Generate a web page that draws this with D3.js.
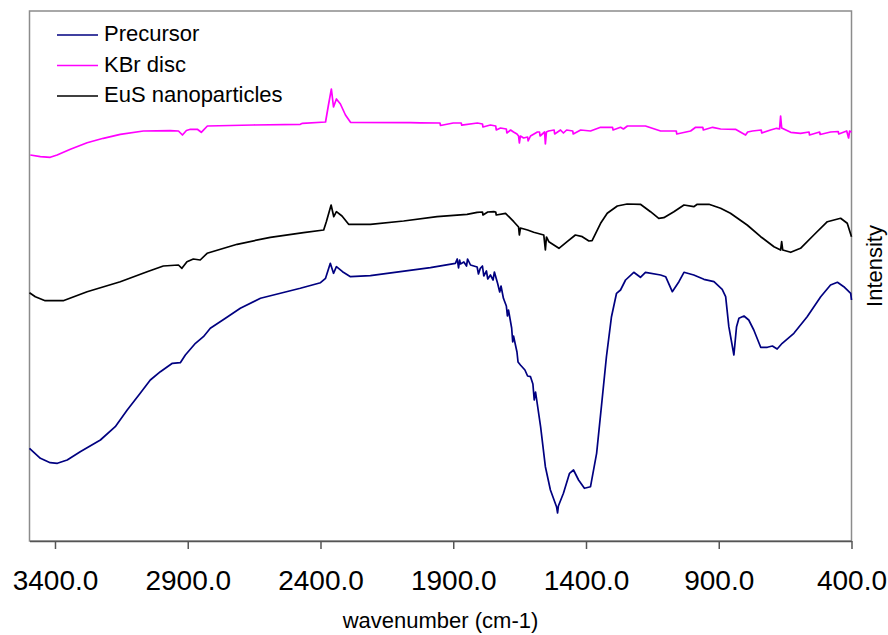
<!DOCTYPE html>
<html>
<head>
<meta charset="utf-8">
<script src="https://cdn.jsdelivr.net/npm/d3@7"></script>
<style>
  body { margin: 0; background: #fff; }
  svg { font-family: "Liberation Sans", Arial, sans-serif; }
</style>
</head>
<body>
<svg id="chart" width="888" height="635"></svg>
<script>
// IR spectra, intensity in arbitrary units
const seriesNames = ["Precursor", "KBr disc", "EuS nanoparticles"];
const seriesColors = ["#000080", "#ff00ff", "#000000"];

const precursorWn = [3496, 3455, 3418, 3391, 3354, 3305, 3229, 3173, 3128, 3079, 3041, 3003, 2958, 2928, 2909, 2871, 2841, 2815, 2758, 2702, 2626, 2551, 2476, 2400, 2381, 2363, 2351, 2340, 2317, 2287, 2212, 2099, 1986, 1892, 1885, 1880, 1876, 1873, 1860, 1850, 1846, 1835, 1810, 1805, 1798, 1790, 1785, 1775, 1770, 1760, 1750, 1745, 1733, 1725, 1720, 1711, 1700, 1696, 1692, 1680, 1676, 1673, 1660, 1656, 1647, 1630, 1620, 1609, 1600, 1595, 1590, 1571, 1553, 1534, 1511, 1507, 1504, 1485, 1462, 1447, 1428, 1406, 1383, 1360, 1342, 1323, 1304, 1285, 1270, 1251, 1220, 1195, 1176, 1119, 1100, 1075, 1050, 1031, 994, 956, 918, 887, 874, 862, 853, 843, 833, 824, 805, 787, 768, 742, 717, 698, 680, 661, 617, 567, 516, 479, 453, 429, 403, 400];
const precursorVal = [93.7, 83.7, 79.3, 78.7, 82, 90.3, 102, 115.3, 132, 148.7, 162, 170.3, 178.7, 179.3, 187, 198.7, 205.3, 213.7, 223.7, 233.7, 243.7, 248.7, 253.7, 259.3, 263.7, 278.7, 268.7, 275.3, 270.3, 265.3, 266.3, 270.3, 274.3, 278.7, 283, 274, 282, 278, 280, 276, 283, 277, 275, 268, 273.7, 276, 266, 271, 263, 267, 262, 270, 258.7, 250, 256, 243.7, 236, 226, 232, 214, 200, 206, 190, 180, 177, 172, 166, 165.3, 158, 142, 150, 115.3, 75.3, 52, 35.3, 29, 36, 48.7, 68.7, 72, 62, 53.7, 55.3, 88.7, 135.3, 185.3, 225.3, 248.7, 252, 262, 269.7, 264.7, 269.7, 267, 265.3, 250.3, 260.3, 269.7, 267, 262.7, 260.3, 252.7, 245.3, 215.3, 202, 187, 215.3, 223.7, 226, 222, 212, 194.7, 194.7, 196, 193, 198.7, 208.7, 225.3, 245.3, 257, 259.7, 255.3, 248.7, 242];

const kbrWn = [3493, 3455, 3418, 3392, 3342, 3279, 3218, 3154, 3067, 2966, 2935, 2920, 2905, 2890, 2864, 2849, 2826, 2653, 2476, 2468, 2381, 2370, 2359, 2351, 2340, 2325, 2306, 2287, 2061, 2024, 1950, 1948, 1900, 1870, 1868, 1809, 1790, 1788, 1760, 1740, 1738, 1722, 1700, 1698, 1684, 1673, 1660, 1654, 1651, 1647, 1635, 1620, 1618, 1609, 1583, 1575, 1573, 1556, 1553, 1549, 1541, 1520, 1518, 1496, 1485, 1473, 1450, 1448, 1420, 1383, 1345, 1300, 1298, 1270, 1259, 1244, 1176, 1119, 1060, 1058, 1006, 987, 960, 958, 923, 893, 837, 799, 791, 773, 740, 738, 705, 682, 671, 667, 663, 629, 592, 560, 558, 520, 518, 479, 450, 448, 418, 411, 407, 400];
const kbrVal = [387, 385.3, 384.7, 387, 392.7, 399.3, 403.7, 407.7, 411, 411.3, 411, 407, 411.5, 412.7, 412.7, 409.7, 416, 417, 417.7, 418.7, 420, 437, 453, 435, 443, 438, 427, 419.7, 419.3, 419.2, 419, 416.5, 419, 419, 416.8, 419, 418, 415, 417, 416, 412, 414, 413, 409, 412, 410, 408, 406, 399, 406, 404, 405, 401, 406, 410, 410, 406, 410, 398, 410, 411, 412, 408, 412, 409, 412, 411, 408, 412, 411, 414.7, 414.7, 412, 414.7, 413, 416, 416, 411, 411, 408, 411, 414.7, 414.7, 412, 414.7, 413, 412.7, 407, 410, 411, 412, 409, 412, 413.7, 413, 426, 414, 409.7, 408.7, 410, 407, 410, 407.5, 410, 410.5, 408, 411, 404, 411, 410];

const eusWn = [3496, 3474, 3437, 3369, 3279, 3154, 3053, 2992, 2935, 2922, 2903, 2879, 2853, 2827, 2714, 2589, 2464, 2388, 2378, 2360, 2350, 2340, 2319, 2294, 2212, 2087, 1961, 1848, 1810, 1790, 1788, 1770, 1747, 1740, 1738, 1703, 1672, 1654, 1651, 1647, 1620, 1597, 1559, 1553, 1549, 1540, 1502, 1471, 1440, 1414, 1389, 1377, 1345, 1320, 1282, 1245, 1195, 1157, 1126, 1107, 1069, 1031, 994, 981, 937, 893, 856, 793, 742, 692, 667, 663, 659, 629, 592, 542, 491, 441, 416, 400];
const eusVal = [249.3, 245.3, 241.3, 241.3, 250.3, 260.3, 270.3, 276, 277, 273.7, 280.3, 283, 282, 288.7, 297.7, 304.7, 309.3, 312, 320.3, 337, 325.3, 330.3, 326, 317.7, 317.7, 321, 325.3, 327.7, 329.7, 330, 327, 330, 330.3, 330, 327, 328.7, 320.3, 315, 307, 314, 312, 309.7, 307, 292, 305, 300.3, 293.7, 300.3, 307, 305.3, 301, 301.3, 318.7, 328.7, 336, 338, 337.7, 330.3, 323.7, 324.3, 330.3, 337, 335.3, 337.7, 337.7, 333.7, 328.7, 317, 305.3, 295.3, 292, 300.3, 292, 289.7, 293.7, 307, 320.3, 323.7, 318.7, 305.3];

const xTicks = [3400, 2900, 2400, 1900, 1400, 900, 400];

const svg = d3.select("#chart");
const plotLeft = 29.5, plotRight = 851.5, plotTop = 11, plotBottom = 541;

const x = d3.scaleLinear().domain([3496, 400]).range([plotLeft, plotRight]);
const y = d3.scaleLinear().domain([1, 531]).range([plotBottom, plotTop]);

// frame
svg.append("rect")
  .attr("x", plotLeft).attr("y", plotTop)
  .attr("width", plotRight - plotLeft).attr("height", plotBottom - plotTop)
  .attr("fill", "none").attr("stroke", "#8c8c8c").attr("stroke-width", 1.5);

// x axis
const xAxis = svg.append("g")
  .attr("transform", `translate(0,${plotBottom})`)
  .call(d3.axisBottom(x).tickValues(xTicks).tickFormat(d3.format(".1f")).tickSize(8).tickSizeOuter(0));
xAxis.select(".domain").attr("stroke", "#555").attr("stroke-width", 1.5);
xAxis.selectAll(".tick line").attr("stroke", "#555").attr("stroke-width", 1.5);
xAxis.selectAll(".tick text")
  .attr("font-size", 28).attr("font-family", "Liberation Sans, Arial, sans-serif")
  .attr("fill", "#000").attr("dy", 0).attr("y", 49);

svg.append("text")
  .attr("x", (plotLeft + plotRight) / 2).attr("y", 628)
  .attr("text-anchor", "middle").attr("font-size", 22)
  .text("wavenumber (cm-1)");

svg.append("text")
  .attr("transform", "translate(882,266) rotate(-90)")
  .attr("text-anchor", "middle").attr("font-size", 22)
  .text("Intensity");

// spectra
const line = d3.line().x(d => x(d[0])).y(d => y(d[1]));
const series = [
  d3.zip(kbrWn, kbrVal),
  d3.zip(eusWn, eusVal),
  d3.zip(precursorWn, precursorVal)
];
const seriesIdx = [1, 2, 0];
const plot = svg.append("g");
series.forEach((pts, i) => {
  plot.append("path")
    .attr("d", line(pts))
    .attr("fill", "none")
    .attr("stroke", seriesColors[seriesIdx[i]])
    .attr("stroke-width", 1.7)
    .attr("stroke-linejoin", "round");
});

// legend
const legend = svg.append("g");
seriesNames.forEach((name, i) => {
  const ly = 35 + i * 30.5;
  legend.append("line")
    .attr("x1", 57).attr("x2", 98).attr("y1", ly).attr("y2", ly)
    .attr("stroke", seriesColors[i]).attr("stroke-width", 1.6);
  legend.append("text")
    .attr("x", 104).attr("y", ly + 6).attr("font-size", 22)
    .text(name);
});
</script>
</body>
</html>
